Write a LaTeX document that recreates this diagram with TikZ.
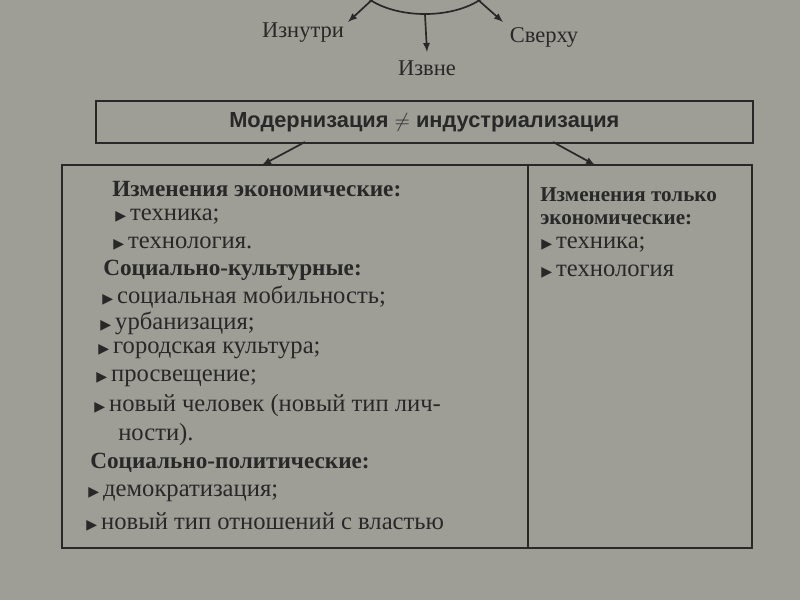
\documentclass[tikz,border=0pt]{standalone}
\usepackage{fontspec}
\setmainfont{Liberation Serif}
\setsansfont{Liberation Sans}
\newfontfamily\dejavu{DejaVu Sans}
\usetikzlibrary{shapes.geometric, positioning, arrows}
\definecolor{paper}{RGB}{158,158,150}
\definecolor{ink}{RGB}{40,40,40}
\newcommand{\tri}{{\dejavu\fontsize{10}{10}\selectfont ▶}\,}
\tikzset{
  txt/.style={anchor=west, inner sep=0pt, text=ink, font=\fontsize{17.5}{19}\selectfont},
  head/.style={txt, font=\fontsize{16.5}{18}\selectfont\bfseries},
  frame/.style={draw=ink, line width=1.2pt},
  arr/.style={-latex, draw=ink, line width=1.2pt}
}
\begin{document}
\begin{tikzpicture}[x=0.025cm, y=-0.025cm]
    \fill[paper] (0,0) rectangle (800,600);
    \useasboundingbox (0,0) rectangle (800,600);

    % source of modernization
    \node[ellipse, frame, minimum width=3.6cm, minimum height=2.0cm] (src) at (425,-26) {};
    \node[txt, anchor=center] (in)  at (303,33) {\fontsize{16}{18}\selectfont Изнутри};
    \node[txt, anchor=center] (out) at (427,68) {\fontsize{16}{18}\selectfont Извне};
    \node[txt, anchor=center] (up)  at (544,37) {\fontsize{16}{18}\selectfont Сверху};
    \coordinate (inT)  at (348,22);
    \coordinate (outT) at (427,52);
    \coordinate (upT)  at (503,22);
    \draw[arr] (374,-2) -- (inT);
    \draw[arr] (src.south) -- (outT);
    \draw[arr] (476,-2) -- (upT);

    % heading
    \node[frame, minimum width=657*0.025cm, minimum height=42*0.025cm, anchor=north west,
          font=\sffamily\bfseries\fontsize{15.5}{17}\selectfont, text=ink] (title) at (95,100)
          {Модернизация $\neq$ индустриализация};

    % table
    \coordinate (tl) at (62,165);
    \coordinate (br) at (752,548);
    \draw[frame] (tl) rectangle (br);
    \draw[frame] (528,165) -- (528,548);
    \draw[arr] (305,142) -- (262,165);
    \draw[arr] (553,142) -- (595,165);

    % left column
    \node[head] (l1) at (112,189) {Изменения экономические:};
    \node[txt]  (l2) at (115,217) {\tri техника;};
    \node[txt]  (l3) at (113,244) {\tri технология.};
    \node[head] (l4) at (103,270) {Социально-культурные:};
    \node[txt]  (l5) at (102,297) {\tri социальная мобильность;};
    \node[txt]  (l6) at (100,323) {\tri урбанизация;};
    \node[txt]  (l7) at (98,350)  {\tri городская культура;};
    \node[txt]  (l8) at (96,378)  {\tri просвещение;};
    \node[txt]  (l9) at (94,406)  {\tri новый человек (новый тип лич-};
    \node[txt]  (l10) at (118,435) {ности).};
    \node[head] (l11) at (90,463) {Социально-политические:};
    \node[txt]  (l12) at (88,493) {\tri демократизация;};
    \node[txt]  (l13) at (86,522) {\tri новый тип отношений с властью};

    % right column
    \node[head, font=\fontsize{15}{17}\selectfont\bfseries] (r1) at (540,195) {Изменения только};
    \node[head, font=\fontsize{15}{17}\selectfont\bfseries] (r2) at (540,220) {экономические:};
    \node[txt]  (r3) at (541,245) {\tri техника;};
    \node[txt]  (r4) at (541,272) {\tri технология};
\end{tikzpicture}
\end{document}
